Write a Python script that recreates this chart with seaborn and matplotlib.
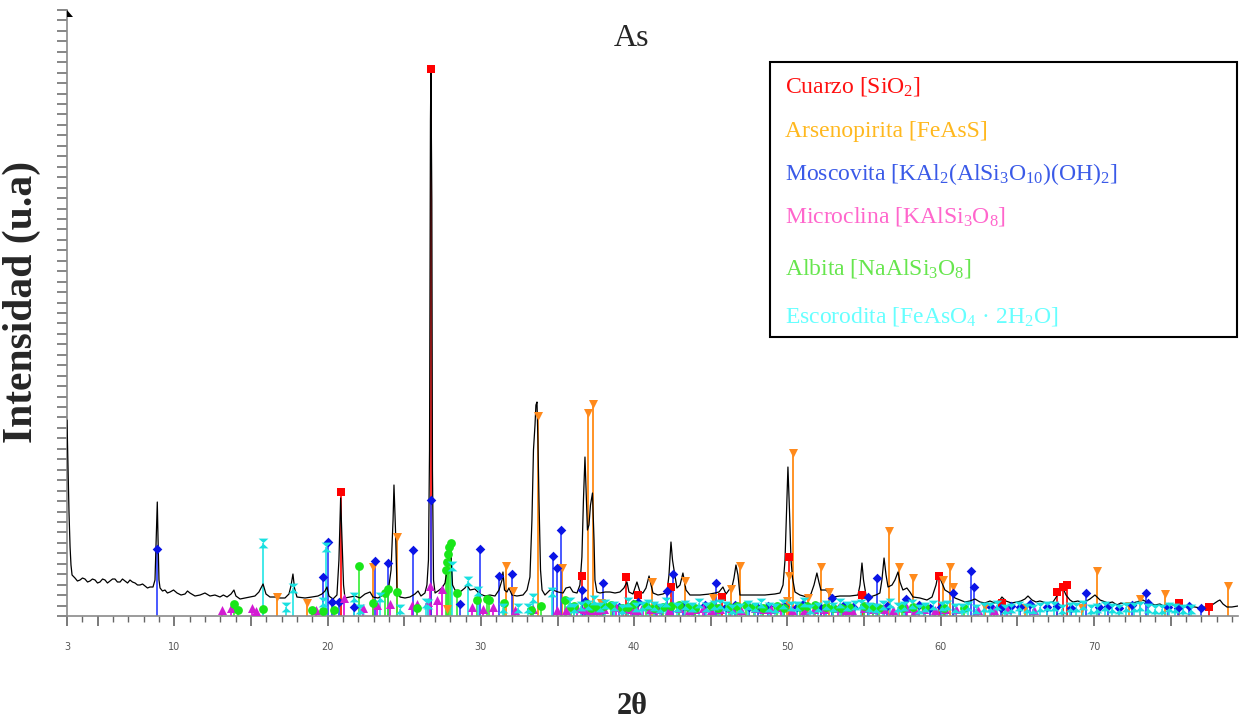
import matplotlib
matplotlib.use("Agg")
import matplotlib.pyplot as plt
import seaborn as sns
import numpy as np
from matplotlib.path import Path
from matplotlib.patches import Rectangle, Polygon

# ---------------- data ----------------
scan_2theta = [
    3.00, 3.07, 3.13, 3.20, 3.26, 3.33, 3.52, 3.68, 3.85, 4.01,
    4.17, 4.34, 4.50, 4.66, 4.83, 4.99, 5.15, 5.32, 5.48, 5.64,
    5.80, 5.97, 6.13, 6.29, 6.46, 6.62, 6.78, 6.95, 7.11, 7.27,
    7.44, 7.60, 7.76, 7.93, 8.09, 8.25, 8.41, 8.61, 8.74, 8.84,
    8.89, 8.94, 9.00, 9.07, 9.23, 9.39, 9.55, 9.72, 9.95, 10.18,
    10.44, 10.70, 10.86, 11.02, 11.35, 11.68, 12.00, 12.33, 12.65, 12.98,
    13.20, 13.44, 13.70, 13.89, 14.02, 14.29, 14.61, 14.94, 15.26, 15.52,
    15.79, 15.98, 16.24, 16.57, 16.89, 17.22, 17.48, 17.61, 17.74, 17.84,
    18.00, 18.53, 18.98, 19.37, 19.63, 19.83, 19.96, 20.09, 20.35, 20.61,
    20.74, 20.85, 20.94, 21.04, 21.13, 21.46, 21.79, 22.11, 22.44, 22.77,
    22.96, 23.29, 23.61, 23.94, 24.14, 24.27, 24.33, 24.43, 24.53, 24.72,
    25.05, 25.37, 25.70, 25.90, 26.09, 26.35, 26.48, 26.58, 26.65, 26.71,
    26.74, 26.80, 26.84, 26.91, 27.01, 27.20, 27.46, 27.66, 27.79, 27.92,
    27.98, 28.05, 28.15, 28.31, 28.64, 28.96, 29.09, 29.29, 29.61, 29.94,
    30.27, 30.59, 30.92, 31.18, 31.38, 31.44, 31.54, 31.70, 31.83, 32.03,
    32.35, 32.75, 33.01, 33.20, 33.33, 33.43, 33.53, 33.59, 33.66, 33.72,
    33.79, 33.89, 33.99, 34.18, 34.51, 34.70, 35.03, 35.36, 35.55, 35.81,
    36.01, 36.27, 36.46, 36.59, 36.69, 36.79, 36.86, 36.95, 37.05, 37.15,
    37.28, 37.38, 37.44, 37.57, 37.77, 38.10, 38.42, 38.75, 39.07, 39.33,
    39.53, 39.66, 39.92, 40.18, 40.38, 40.57, 40.77, 40.97, 41.10, 41.23,
    41.55, 41.88, 42.14, 42.27, 42.40, 42.50, 42.60, 42.79, 42.99, 43.18,
    43.38, 43.64, 44.29, 44.94, 45.27, 45.53, 45.79, 45.99, 46.18, 46.38,
    46.51, 46.64, 46.77, 46.90, 47.23, 47.88, 48.53, 49.18, 49.51, 49.71,
    49.84, 49.94, 50.03, 50.13, 50.23, 50.33, 50.49, 50.81, 51.27, 51.53,
    51.73, 51.92, 52.05, 52.18, 52.51, 52.97, 53.42, 54.08, 54.60, 54.73,
    54.86, 54.96, 55.12, 55.38, 55.77, 56.03, 56.16, 56.30, 56.43, 56.56,
    56.82, 57.01, 57.21, 57.34, 57.53, 57.79, 57.99, 58.19, 58.64, 59.10,
    59.43, 59.69, 59.82, 59.95, 60.08, 60.27, 60.60, 60.93, 61.25, 61.58,
    61.91, 62.23, 62.56, 62.88, 63.21, 63.53, 63.86, 63.99, 64.25, 64.61,
    64.97, 65.23, 65.49, 65.69, 65.95, 66.21, 66.47, 66.90, 67.32, 67.58,
    67.78, 67.97, 68.17, 68.43, 68.62, 68.95, 69.28, 69.50, 69.73, 70.06,
    70.39, 70.91, 71.20, 71.49, 71.75, 72.02, 72.28, 72.54, 72.99, 73.19,
    73.42, 73.65, 73.97, 74.30, 74.53, 74.76, 75.02, 75.28, 75.54, 75.80,
    76.19, 76.58, 76.91, 77.24, 77.69, 78.08, 78.21, 78.41, 78.67, 78.99,
    79.39,
]
scan_counts = [
    196, 146, 104, 69, 51, 41, 38, 35, 36, 38,
    37, 34, 35, 37, 36, 33, 34, 37, 36, 33,
    35, 37, 37, 34, 34, 37, 35, 33, 36, 34,
    33, 31, 31, 32, 30, 28, 29, 29, 36, 86,
    114, 76, 36, 28, 25, 26, 23, 24, 26, 23,
    21, 22, 25, 23, 20, 21, 23, 20, 21, 19,
    21, 19, 22, 26, 20, 17, 18, 19, 20, 24,
    32, 22, 19, 19, 18, 18, 22, 30, 42, 28,
    19, 18, 19, 20, 22, 25, 29, 20, 17, 21,
    56, 118, 76, 31, 18, 19, 20, 18, 22, 24,
    19, 18, 21, 23, 46, 96, 131, 86, 26, 19,
    18, 19, 22, 25, 20, 23, 31, 56, 166, 496,
    544, 416, 146, 36, 23, 25, 28, 33, 46, 66,
    73, 61, 31, 26, 24, 28, 31, 26, 27, 22,
    20, 21, 20, 26, 36, 44, 26, 24, 28, 21,
    20, 21, 26, 39, 96, 166, 191, 211, 214, 176,
    116, 46, 26, 21, 26, 26, 24, 23, 28, 29,
    24, 23, 31, 59, 116, 159, 126, 86, 91, 111,
    123, 76, 36, 24, 23, 24, 24, 23, 24, 28,
    34, 24, 22, 34, 24, 23, 28, 40, 31, 23,
    21, 22, 24, 41, 74, 56, 46, 28, 31, 43,
    26, 21, 21, 22, 23, 24, 29, 22, 26, 29,
    38, 51, 41, 21, 21, 21, 21, 22, 23, 31,
    56, 106, 149, 106, 56, 38, 24, 21, 19, 22,
    31, 43, 34, 26, 26, 19, 20, 20, 21, 31,
    53, 36, 21, 19, 21, 23, 36, 58, 41, 29,
    31, 36, 44, 34, 26, 28, 24, 19, 18, 16,
    19, 31, 41, 38, 33, 26, 23, 18, 16, 14,
    15, 17, 14, 13, 15, 13, 16, 19, 15, 13,
    14, 15, 17, 20, 16, 14, 15, 13, 14, 20,
    24, 28, 21, 16, 14, 15, 13, 15, 17, 21,
    16, 13, 14, 11, 13, 12, 10, 13, 15, 16,
    14, 13, 11, 12, 10, 11, 12, 10, 11, 9,
    10, 9, 8, 9, 11, 15, 16, 12, 9, 9,
    10,
]

cuarzo_pos = [20.85, 26.74, 36.59, 39.46, 40.25, 42.40, 45.76, 50.10,
              54.86, 59.88, 64.00, 67.58, 67.97, 68.23, 75.54, 77.50]
cuarzo_int = [124, 547, 40, 39, 21, 29, 19, 59, 21, 40, 13, 24, 29, 31, 13, 9]

arseno_pos = [16.70, 18.66, 22.96, 24.53, 27.79, 31.64, 32.09, 33.72, 35.29,
              36.99, 37.31, 37.83, 41.16, 43.31, 45.14, 46.31, 46.90, 49.97,
              50.10, 50.36, 51.34, 52.18, 52.71, 56.62, 57.27, 58.19, 60.14,
              60.60, 60.80, 62.90, 65.50, 69.20, 70.19, 72.30, 73.00, 74.62, 78.74]
arseno_int = [19, 13, 49, 79, 7, 50, 25, 200, 48, 203, 212, 13, 34, 35, 18, 27,
              50, 15, 40, 163, 18, 49, 24, 85, 49, 38, 36, 49, 29, 9, 8, 8, 45,
              10, 17, 22, 30]

mosco_pos = [8.87, 19.70, 20.03, 20.29, 20.74, 21.72, 23.09, 23.94, 25.57, 26.74,
             28.64, 29.94, 31.18, 32.03, 34.70, 34.99, 35.22, 36.62, 36.79, 37.96,
             38.60, 39.90, 40.25, 41.40, 42.14, 42.53, 43.90, 44.60, 45.34, 46.57,
             47.50, 48.70, 51.00, 52.90, 53.60, 54.30, 55.25, 55.84, 57.73, 58.60,
             59.30, 60.80, 61.97, 62.17, 63.30, 64.60, 65.80, 66.90, 69.47, 70.90,
             71.60, 72.50, 73.39, 73.52, 74.80, 76.20, 77.00,
             39.0, 41.8, 43.2, 46.0, 48.1, 49.8, 50.6, 52.2, 56.5, 60.0,
             63.9, 65.2, 67.6, 68.5, 70.3, 75.5]
mosco_int = [67, 39, 74, 14, 14, 9, 55, 53, 66, 116, 12, 67, 40, 42, 60, 48, 86,
             26, 15, 33, 10, 12, 14, 9, 25, 42, 8, 11, 33, 11, 9, 10, 12, 18, 10,
             9, 19, 38, 17, 11, 8, 23, 45, 29, 9, 10, 12, 9, 23, 10, 8, 11, 23,
             13, 9, 10, 8,
             9, 8, 10, 9, 8, 10, 9, 8, 10, 9, 8, 9, 10, 8, 9, 8]

micro_pos = [13.11, 13.70, 15.07, 15.33, 19.24, 21.07, 22.31, 23.22, 24.07, 25.50,
             25.83, 26.55, 26.68, 27.14, 27.46, 29.42, 30.14, 30.79, 32.22, 33.40,
             34.96, 35.55, 36.30, 37.10, 38.00, 38.80, 39.80, 40.60, 41.50, 42.90,
             43.60, 44.50, 45.60, 47.00, 47.90, 48.90, 49.60, 51.10, 52.40, 53.30,
             54.20, 55.60, 56.90, 57.80, 58.90, 59.60, 61.00, 62.40, 64.30, 66.10,
             36.7, 37.6, 39.3, 40.2, 41.0, 42.3, 44.0, 45.0, 46.3, 48.4,
             50.3, 51.7, 53.8, 55.0, 56.3, 58.3, 60.3, 63.5]
micro_int = [6, 8, 8, 5, 6, 18, 8, 11, 12, 11, 12, 14, 30, 16, 27, 9, 7, 9, 6, 7,
             6, 6, 8, 6, 7, 9, 7, 10, 7, 8, 6, 8, 7, 6, 8, 7, 9, 6, 7, 8,
             6, 7, 6, 8, 7, 6, 7, 6, 7, 6,
             7, 6, 8, 6, 7, 6, 7, 6, 8, 7, 6, 7, 6, 8, 7, 6, 7, 6]

albita_pos = [13.89, 14.15, 15.79, 18.98, 19.70, 20.42, 22.05, 22.96, 23.74, 23.94,
              24.53, 25.83, 27.72, 27.79, 27.85, 27.92, 28.05, 28.44, 29.75, 30.40,
              30.50, 31.51, 33.27, 33.92, 35.49, 36.10, 36.90, 37.60, 38.50, 39.20,
              40.00, 40.80, 41.90, 42.90, 44.00, 45.00, 46.20, 47.30, 48.40, 49.30,
              50.80, 51.80, 53.00, 54.00, 55.00, 56.00, 59.00, 61.50,
              35.9, 37.2, 38.0, 39.6, 41.3, 42.4, 43.5, 45.5, 46.7, 47.8,
              49.8, 51.3, 52.5, 53.5, 55.6, 57.5, 58.2, 60.2]
albita_int = [12, 6, 7, 6, 5, 6, 50, 13, 23, 27, 24, 8, 46, 54, 62, 69, 73, 23, 16,
              17, 16, 13, 6, 10, 16, 10, 12, 9, 11, 8, 12, 10, 9, 11, 8, 10, 9, 11,
              8, 10, 9, 11, 8, 9, 10, 8, 9, 8,
              9, 8, 10, 9, 8, 10, 9, 8, 10, 9, 8, 10, 9, 8, 9, 8, 9, 8]

escoro_pos = [15.79, 17.29, 17.74, 19.70, 19.89, 21.72, 22.11, 23.42, 24.72, 26.42,
              26.55, 28.11, 29.16, 29.81, 31.44, 32.42, 33.07, 33.40, 34.64,
              35.8, 36.5, 37.4, 38.1, 38.7, 39.6, 40.1, 40.9, 41.3, 42.1,
              42.8, 43.3, 44.2, 44.7, 45.6, 46.0, 46.9, 47.4, 48.3, 48.8,
              49.7, 50.6, 51.1, 52.0, 52.5, 53.4, 53.9, 54.8, 55.3, 56.2,
              56.7, 57.6, 58.1, 59.0, 59.5, 60.4, 60.9, 61.8, 62.3, 63.2,
              63.7, 64.6, 65.1, 66.0, 66.5, 67.4, 67.9, 68.8, 69.3, 70.2,
              70.7, 71.6, 72.1, 73.0, 73.5, 74.4, 74.9, 75.8,
              36.1, 37.0, 37.8, 39.2, 40.5, 41.7, 43.8, 45.2, 46.4, 47.9,
              49.2, 50.2, 51.5, 53.0, 54.4, 55.8, 57.2, 58.6, 60.1, 61.4,
              62.8, 64.2, 65.6, 66.9, 68.4, 69.8, 71.2, 72.6, 74.0, 75.3, 76.3]
escoro_int = [73, 9, 28, 14, 69, 19, 7, 19, 7, 13, 12, 50, 35, 25, 8, 8, 8, 18, 24,
              14, 10, 16, 12, 10, 14, 9, 12, 10, 14, 9, 11, 13, 9, 12, 10, 8, 11,
              13, 9, 12, 10, 14, 9, 11, 13, 10, 12, 9, 11, 13, 10, 12, 9, 11,
              11, 8, 10, 7, 9, 11, 8, 10, 7, 9, 10, 7, 9, 11, 8, 10, 7, 9, 10,
              8, 7, 9, 7,
              8, 11, 9, 7, 10, 8, 9, 11, 7, 9, 8, 10, 7, 9, 11, 8, 9, 7, 10, 8,
              9, 7, 8, 10, 9, 7, 8, 9, 7, 8, 7]

x_ticks = [3, 5, 10, 15, 20, 25, 30, 35, 40, 45, 50, 55, 60, 65, 70, 75]
x_ticklabels = ["3", "", "10", "", "20", "", "30", "", "40", "", "50", "", "60", "", "70", ""]

legend_items = [
    ("Cuarzo [SiO$_2$]", "#FF1010"),
    ("Arsenopirita [FeAsS]", "#FFB81E"),
    ("Moscovita [KAl$_2$(AlSi$_3$O$_{10}$)(OH)$_2$]", "#3A5AE8"),
    ("Microclina [KAlSi$_3$O$_8$]", "#FF66CC"),
    ("Albita [NaAlSi$_3$O$_8$]", "#66E64D"),
    ("Escorodita [FeAsO$_4$ · 2H$_2$O]", "#66FFFF"),
]

# ---------------- style ----------------
sns.set_style("ticks")
plt.rcParams["font.family"] = ["DejaVu Sans"]
plt.rcParams["mathtext.fontset"] = "custom"
plt.rcParams["mathtext.rm"] = "Liberation Serif"
plt.rcParams["mathtext.it"] = "Liberation Serif:italic"
plt.rcParams["mathtext.bf"] = "Liberation Serif:bold"
plt.rcParams["mathtext.default"] = "regular"

W, H = 1239, 723
fig = plt.figure(figsize=(W / 100, H / 100), dpi=100)
ax = fig.add_axes([67 / W, 107 / H, 1171 / W, 606 / H])

phases = [
    (cuarzo_pos, cuarzo_int, "#FF0000", "#FF0000", "s", 34),
    (arseno_pos, arseno_int, "#FF8000", "#FF8A1C", "v", 42),
    (mosco_pos, mosco_int, "#2a3cff", "#0A14E6", "D", 24),
    (micro_pos, micro_int, "#DD00DD", "#D21CD2", "^", 42),
    (albita_pos, albita_int, "#33EE33", "#19E619", "o", 40),
    (escoro_pos, escoro_int, "#22E5E5", "#19E0E0", None, 50),
]
for pos, inten, stem_c, mk_c, mk, s in phases:
    ax.vlines(pos, 0, inten, colors=stem_c, lw=1.4, alpha=0.85, zorder=2)

# diffractogram
sns.lineplot(x=scan_2theta, y=scan_counts, color="black", lw=0.9,
             sort=False, estimator=None, ax=ax, zorder=3)

hourglass = Path([(-1, 1), (1, 1), (-0.1, 0), (1, -1), (-1, -1), (0.1, 0), (-1, 1)],
                 [Path.MOVETO, Path.LINETO, Path.LINETO, Path.LINETO,
                  Path.LINETO, Path.LINETO, Path.CLOSEPOLY])
for pos, inten, stem_c, mk_c, mk, s in phases:
    if mk is None:
        ax.scatter(pos, inten, marker=hourglass, s=s, color=mk_c,
                   linewidths=0, zorder=4, clip_on=False)
    else:
        sns.scatterplot(x=pos, y=inten, marker=mk, s=s, color=mk_c,
                        linewidth=0, ax=ax, zorder=4, clip_on=False, legend=False)

ax.set_xlim(3, 79.39)
ax.set_ylim(0, 606)
for side in ["top", "right"]:
    ax.spines[side].set_visible(False)
for side in ["left", "bottom"]:
    ax.spines[side].set_color("#8a8a8a")
    ax.spines[side].set_linewidth(1.2)

ax.set_xticks(x_ticks)
ax.set_xticklabels(x_ticklabels)
ax.set_xticks(np.arange(3, 80, 1), minor=True)
ax.tick_params(axis="x", which="major", direction="out", length=7, width=1.1,
               color="#555555", labelsize=7, labelcolor="#555555", pad=12)
ax.tick_params(axis="x", which="minor", direction="out", length=4, width=1.0,
               color="#666666")
ax.set_yticks(np.arange(0, 607, 10.45))
ax.set_yticklabels([])
ax.tick_params(axis="y", which="major", direction="out", length=7, width=1.1,
               color="#666666")
ax.set_xlabel("")
ax.set_ylabel("")

fig.add_artist(Polygon([[67 / W, 713 / H], [67 / W, 706 / H], [73 / W, 706 / H]],
                       closed=True, transform=fig.transFigure, color="black", lw=0))

fig.text(632 / W, 1 - 38 / H, "As", ha="center", va="center",
         family="Liberation Serif", size=23)
fig.text(632 / W, 1 - 706 / H, "2θ", ha="center", va="center",
         family="Liberation Serif", weight="bold", size=22)
fig.text(22 / W, 1 - 302 / H, "Intensidad (u.a)", ha="center", va="center",
         rotation=90, family="Liberation Serif", weight="bold", size=30)

fig.add_artist(Rectangle((770 / W, (H - 337) / H), (1237 - 770) / W, (337 - 62) / H,
                         transform=fig.transFigure, fill=False, ec="black", lw=1.5))
baselines = [93, 137, 180, 223, 275, 323]
for (label, col), yb in zip(legend_items, baselines):
    fig.text(785 / W, 1 - yb / H, label, ha="left", va="baseline", color=col,
             family="Liberation Serif", size=17)

fig.savefig("out.png", dpi=100)
